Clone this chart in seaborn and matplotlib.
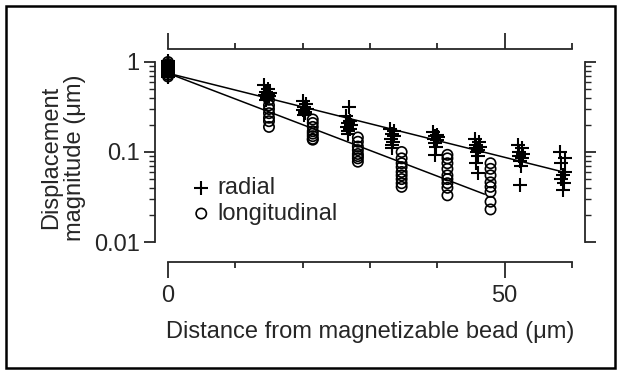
import numpy as np
import pandas as pd
import matplotlib
matplotlib.use("Agg")
import matplotlib.pyplot as plt
from matplotlib.patches import Rectangle
from matplotlib.ticker import FixedLocator, MultipleLocator, LogLocator, NullFormatter, FixedFormatter
import seaborn as sns

sns.set_style("ticks")
plt.rcParams['font.family'] = ['Liberation Sans', 'DejaVu Sans']

# Radial displacements: distance (um) of each point, grouped by bead distance
radial_x = [
    [0, 0, 0, 0, 0, 0, 0, 0, 0, 0, 0],
    [14.3, 14.9, 14.6, 15.1, 14.4, 15.0, 14.7, 14.5, 14.9],
    [20.0, 20.5, 20.2, 20.6, 20.1, 20.4, 20.3, 20.2],
    [26.9, 26.5, 27.1, 26.7, 27.2, 26.6, 27.0, 26.8, 26.7],
    [33.0, 33.5, 33.2, 33.6, 33.1, 33.4, 33.3, 33.2],
    [39.4, 40.0, 39.6, 40.1, 39.5, 39.9, 39.7, 39.8, 39.6],
    [45.6, 46.2, 45.8, 46.3, 45.7, 46.1, 45.9, 46.0, 45.8, 46.0],
    [52.0, 52.6, 52.2, 52.7, 52.1, 52.5, 52.3, 52.4, 52.3],
    [58.2, 59.0, 58.4, 58.9, 58.6, 58.3, 58.8, 58.7],
]
radial_y = [
    [1.02, 0.97, 0.93, 0.9, 0.86, 0.83, 0.8, 0.77, 0.74, 0.71, 0.68],
    [0.55, 0.50, 0.47, 0.45, 0.43, 0.42, 0.40, 0.38, 0.44],
    [0.37, 0.34, 0.32, 0.30, 0.29, 0.28, 0.27, 0.26],
    [0.32, 0.25, 0.22, 0.21, 0.20, 0.19, 0.18, 0.17, 0.16],
    [0.18, 0.17, 0.16, 0.15, 0.14, 0.13, 0.12, 0.11],
    [0.165, 0.155, 0.15, 0.145, 0.14, 0.135, 0.125, 0.115, 0.093],
    [0.14, 0.13, 0.12, 0.115, 0.11, 0.105, 0.10, 0.09, 0.075, 0.059],
    [0.12, 0.11, 0.10, 0.095, 0.09, 0.085, 0.08, 0.07, 0.043],
    [0.10, 0.086, 0.075, 0.06, 0.055, 0.05, 0.045, 0.038],
]
# Longitudinal displacements
long_x = [0, 15.0, 21.5, 28.2, 34.7, 41.5, 47.9]
long_y = [
    [1.0, 0.95, 0.9, 0.85, 0.8, 0.76, 0.72, 0.69],
    [0.38, 0.33, 0.30, 0.27, 0.24, 0.22, 0.19],
    [0.23, 0.21, 0.19, 0.17, 0.16, 0.15, 0.14, 0.137],
    [0.145, 0.13, 0.115, 0.105, 0.095, 0.09, 0.085, 0.078],
    [0.10, 0.085, 0.075, 0.068, 0.06, 0.055, 0.05, 0.045, 0.041],
    [0.093, 0.085, 0.075, 0.065, 0.055, 0.05, 0.045, 0.04, 0.033],
    [0.075, 0.065, 0.055, 0.046, 0.041, 0.036, 0.028, 0.023],
]
# Fitted exponential decay lines
radial_fit_x = [0, 58.7]
radial_fit_y = [0.75, 0.06]
long_fit_x = [0, 47.0]
long_fit_y = [0.75, 0.034]

rows = []
for xs, ys in zip(radial_x, radial_y):
    for x, y in zip(xs, ys):
        rows.append((x, y))
radial_df = pd.DataFrame(rows, columns=["distance", "displacement"])
rows = []
for x, ys in zip(long_x, long_y):
    for y in ys:
        rows.append((x, y))
long_df = pd.DataFrame(rows, columns=["distance", "displacement"])

fig = plt.figure(figsize=(6.21, 3.71), dpi=100)
ax = fig.add_axes([0.2705, 0.3477, 0.6506, 0.4852])

sns.lineplot(x=radial_fit_x, y=radial_fit_y, color="black", lw=1.1, ax=ax)
sns.lineplot(x=long_fit_x, y=long_fit_y, color="black", lw=1.1, ax=ax)
sns.scatterplot(data=radial_df, x="distance", y="displacement", marker="+",
                color="black", s=95, linewidth=1.5, clip_on=False, ax=ax,
                label="radial")
sns.scatterplot(data=long_df, x="distance", y="displacement", marker="o",
                facecolors="none", edgecolor="black", s=55, linewidth=1.2,
                clip_on=False, ax=ax, label="longitudinal")

ax.set_yscale("log")
ax.set_xlim(0, 60)
ax.set_ylim(0.01, 1)

for side in ["left", "right", "top"]:
    ax.spines[side].set_visible(True)
    ax.spines[side].set_position(("outward", 9.5))
ax.spines["bottom"].set_position(("outward", 14.5))
for sp in ax.spines.values():
    sp.set_linewidth(1.3)

ax.xaxis.set_major_locator(FixedLocator([0, 50]))
ax.xaxis.set_minor_locator(MultipleLocator(10))
ax.yaxis.set_major_locator(FixedLocator([0.01, 0.1, 1]))
ax.yaxis.set_major_formatter(FixedFormatter(["0.01", "0.1", "1"]))
ax.yaxis.set_minor_locator(LogLocator(base=10, subs=np.arange(2, 10)))
ax.yaxis.set_minor_formatter(NullFormatter())

ax.tick_params(axis="x", which="major", length=11.5, width=1.3, top=True,
               labeltop=False, labelsize=17, pad=5)
ax.tick_params(axis="x", which="minor", length=4.5, width=1.3, top=True)
ax.tick_params(axis="y", which="major", length=8, width=1.3, right=True,
               labelsize=17, pad=3)
ax.tick_params(axis="y", which="minor", length=4.5, width=1.0, right=True)

ax.set_xlabel("Distance from magnetizable bead (\u03bcm)", fontsize=17, labelpad=10)
ax.set_ylabel("Displacement\nmagnitude (\u03bcm)", fontsize=17, linespacing=1.1)
ax.yaxis.set_label_coords(-0.203, 0.47)

ax.legend(loc="upper left", bbox_to_anchor=(0.059, 0.36), frameon=False,
          fontsize=17, handlelength=0.8, handletextpad=0.3, labelspacing=0.15,
          borderpad=0, borderaxespad=0)

fig.add_artist(Rectangle((0.009, 0.008), 0.982, 0.977, transform=fig.transFigure,
                         fill=False, edgecolor="black", linewidth=1.8))

fig.savefig("out.png", dpi=100)
